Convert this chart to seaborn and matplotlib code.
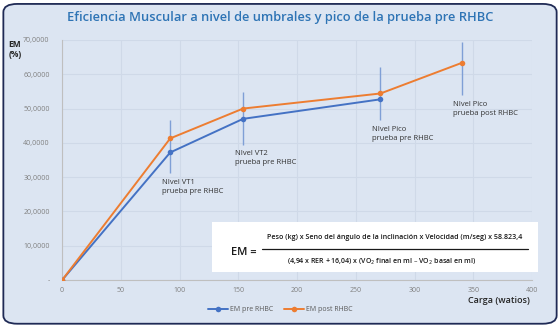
import seaborn as sns
import pandas as pd
import matplotlib.pyplot as plt
from matplotlib.patches import FancyBboxPatch, Rectangle
from matplotlib.ticker import FuncFormatter

# datos
carga_pre = [0, 92, 154, 271]
em_pre = [0, 37.2, 47.0, 52.7]
carga_post = [0, 92, 154, 271, 340]
em_post = [0, 41.3, 50.0, 54.4, 63.3]

# barras verticales (rango) por nivel
nivel_x = [92, 154, 271, 340]
nivel_lo = [31.1, 39.4, 46.6, 53.9]
nivel_hi = [46.6, 54.7, 62.0, 69.3]
nivel_txt = ["NIvel VT1\nprueba pre RHBC", "NIvel VT2\nprueba pre RHBC",
             "NIvel Pico\nprueba pre RHBC", "NIvel Pico\nprueba post RHBC"]

df = pd.concat([
    pd.DataFrame({"carga": carga_pre, "em": em_pre, "serie": "EM pre RHBC"}),
    pd.DataFrame({"carga": carga_post, "em": em_post, "serie": "EM post RHBC"}),
])

sns.set_style("white")
plt.rcParams["font.family"] = ["Open Sans", "DejaVu Sans"]

bg = "#DCE5F2"
fig = plt.figure(figsize=(5.6, 3.27), dpi=100)
fig.patch.set_facecolor("white")
fig.patches.append(FancyBboxPatch((0.006, 0.01), 0.988, 0.978, boxstyle="round,pad=0,rounding_size=0.025",
                                  transform=fig.transFigure, facecolor=bg, edgecolor="#1F2A55", linewidth=1.3,
                                  zorder=-10))

ax = fig.add_axes([0.111, 0.1437, 0.839, 0.734])
ax.set_facecolor(bg)

ax.vlines(nivel_x, nivel_lo, nivel_hi, color="#7F9FD6", linewidth=1.0, zorder=2)

sns.lineplot(data=df, x="carga", y="em", hue="serie", marker="o", markersize=4, markeredgewidth=0,
             palette=["#4472C4", "#ED7D31"], linewidth=1.4, ax=ax, zorder=3, sort=False)

for x, lo, t in zip(nivel_x, nivel_lo, nivel_txt):
    ax.annotate(t, (x, lo), xytext=(-6, -4), textcoords="offset points", ha="left", va="top",
                fontsize=5.5, color="#333333", linespacing=1.35)

ax.set_xlim(0, 400)
ax.set_ylim(0, 70)
ax.set_xticks(range(0, 401, 50))
ax.set_yticks(range(0, 71, 10))
ax.yaxis.set_major_formatter(FuncFormatter(lambda v, p: "-" if v == 0 else f"{v:.4f}".replace(".", ",")))
ax.tick_params(labelsize=5, colors="#808080", length=0)
ax.tick_params(axis="y", pad=9)
ax.tick_params(axis="x", pad=5)
ax.grid(True, color="#CFD9E8", linewidth=0.8)
for s in ["top", "right"]:
    ax.spines[s].set_visible(False)
ax.spines["left"].set_color("#BFBFBF")
ax.spines["bottom"].set_color("#BFBFBF")
ax.set_xlabel("")
ax.set_ylabel("")

leg = ax.legend(loc="center", bbox_to_anchor=(0.5, 0.053), bbox_transform=fig.transFigure, ncol=2,
                frameon=False, fontsize=5, handlelength=3, columnspacing=1.5, handletextpad=0.2)
for t in leg.get_texts():
    t.set_color("#595959")

fig.text(0.5, 0.945, "Eficiencia Muscular a nivel de umbrales y pico de la prueba pre RHBC",
         ha="center", va="center", fontsize=9.3, color="#2E74B5", fontweight="semibold")
fig.text(0.015, 0.878, "EM\n(%)", ha="left", va="top", fontsize=6, fontweight="bold", color="#262626")
fig.text(0.947, 0.08, "Carga (watios)", ha="right", va="center", fontsize=6.5, fontweight="semibold", color="#262626")

# recuadro con la formula
fig.patches.append(Rectangle((0.379, 0.168), 0.582, 0.153, transform=fig.transFigure,
                             facecolor="white", edgecolor="none", zorder=5))
fig.text(0.413, 0.229, "EM =", ha="left", va="center", fontsize=8, fontweight="semibold", color="#1a1a1a", zorder=6)
fig.text(0.705, 0.275, "Peso (kg) x Seno del ángulo de la inclinación x Velocidad (m/seg) x 58.823,4",
         ha="center", va="center", fontsize=5.1, fontweight="semibold", color="#1a1a1a", zorder=6)
fig.add_artist(plt.Line2D([0.468, 0.942], [0.238, 0.238], transform=fig.transFigure, color="#1a1a1a",
                          linewidth=0.9, zorder=6))
fig.text(0.681, 0.199, "(4,94 x RER + 16,04) x (VO$_2$ final en ml \u2013 VO$_2$ basal en ml)",
         ha="center", va="center", fontsize=5.0, fontweight="semibold", color="#1a1a1a", zorder=6)

fig.savefig("out.png", dpi=100, facecolor="white")
